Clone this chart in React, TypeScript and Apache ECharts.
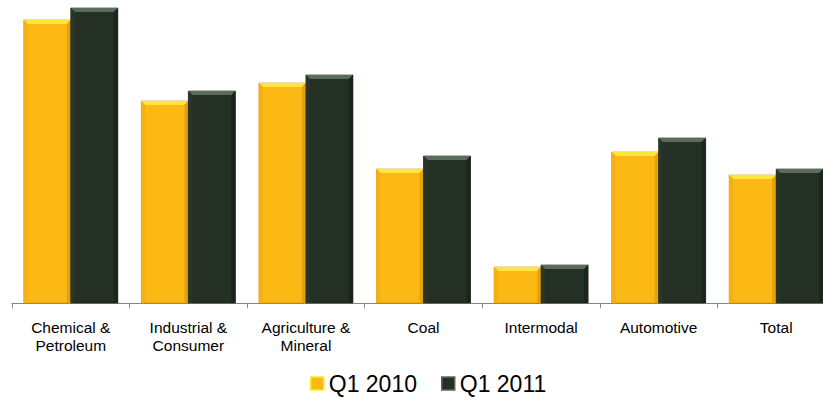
import React, { useEffect, useRef } from "react";
import * as echarts from "echarts";

const categories = [
  "Chemical &\nPetroleum",
  "Industrial &\nConsumer",
  "Agriculture &\nMineral",
  "Coal",
  "Intermodal",
  "Automotive",
  "Total",
];
const seriesNames = ["Q1 2010", "Q1 2011"];
const q12010 = [283, 202, 220, 134, 36, 151, 128];
const q12011 = [295, 212, 228, 147, 38, 165, 134];

const palettes = [
  { main: "#FDB913", top: "#FFE53C", left: "#F4B014", right: "#E2A30E", edge: "#C98F0A" },
  { main: "#243024", top: "#5C6C5C", left: "#283528", right: "#1B251B", edge: "#111811" },
];

function makeRender(seriesIdx: number) {
  return (params: any, api: any) => {
    const idx = api.value(0);
    const val = api.value(1);
    const base = api.coord([idx, 0]);
    const top = api.coord([idx, val]);
    const band = api.size([1, 0])[0];
    const w = band * 0.4;
    const x = seriesIdx === 0 ? base[0] - w : base[0];
    const y = top[1];
    const yb = base[1];
    const b = 4;
    const p = palettes[seriesIdx];
    return {
      type: "group",
      children: [
        { type: "rect", shape: { x, y, width: w, height: yb - y }, style: { fill: p.main, stroke: p.edge, lineWidth: 0.6 } },
        { type: "polygon", shape: { points: [[x, y], [x + w, y], [x + w - b, y + b], [x + b, y + b]] }, style: { fill: p.top } },
        { type: "polygon", shape: { points: [[x, y], [x + b, y + b], [x + b, yb], [x, yb]] }, style: { fill: p.left } },
        { type: "polygon", shape: { points: [[x + w, y], [x + w - b, y + b], [x + w - b, yb], [x + w, yb]] }, style: { fill: p.right } },
      ],
    };
  };
}

export default function App() {
  const ref = useRef<HTMLDivElement>(null);
  useEffect(() => {
    if (!ref.current) return;
    const chart = echarts.init(ref.current, undefined, { renderer: "svg" });
    const all = [q12010, q12011];
    chart.setOption({
      animation: false,
      grid: { left: 12, top: 3, width: 823, height: 300, outerBoundsMode: "none", containLabel: false },
      legend: {
        bottom: 2,
        left: 305,
        itemWidth: 13,
        itemHeight: 13,
        itemGap: 24,
        textStyle: { fontFamily: "Liberation Sans, Arial", fontSize: 23, color: "#000" },
        data: [
          { name: seriesNames[0], icon: "rect", itemStyle: { color: palettes[0].main, borderColor: palettes[0].top, borderWidth: 1.5 } },
          { name: seriesNames[1], icon: "rect", itemStyle: { color: palettes[1].main, borderColor: palettes[1].top, borderWidth: 1.5 } },
        ],
      },
      xAxis: {
        type: "category",
        data: categories,
        axisLine: { lineStyle: { color: "#868686", width: 1 } },
        axisTick: { show: true, length: 5, lineStyle: { color: "#868686" } },
        axisLabel: {
          interval: 0,
          margin: 15,
          fontFamily: "Liberation Sans, Arial",
          fontSize: 15.5,
          lineHeight: 18,
          color: "#000",
        },
      },
      yAxis: { type: "value", min: 0, max: 300, show: false, splitLine: { show: false } },
      series: [0, 1].map((s) => ({
        type: "custom",
        name: seriesNames[s],
        itemStyle: { color: palettes[s].main },
        renderItem: makeRender(s),
        encode: { x: 0, y: 1 },
        data: all[s].map((v, i) => [i, v]),
      })),
    });
    return () => chart.dispose();
  }, []);
  return <div ref={ref} style={{ position: "absolute", left: 0, top: 0, width: 823, height: 402 }} />;
}
